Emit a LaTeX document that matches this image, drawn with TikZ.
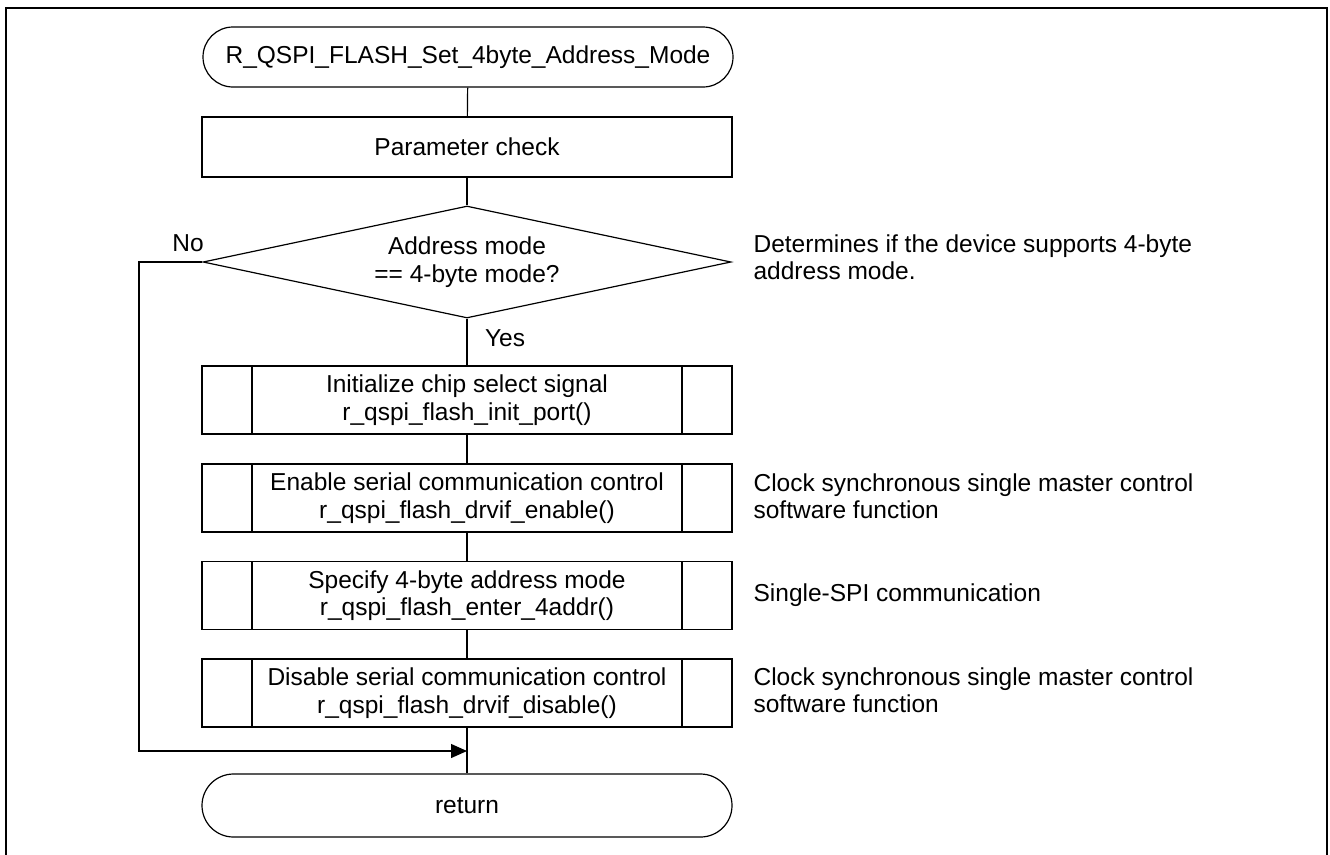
\documentclass[tikz,border=0pt]{standalone}
\usepackage{fontspec}
\setmainfont{Liberation Sans}
\usetikzlibrary{shapes.geometric,arrows.meta}
\begin{document}
\begin{tikzpicture}[x=1pt,y=-1pt,
  font=\fontsize{24.5}{27.5}\selectfont,
  line width=1.2pt,
  term/.style={draw, rounded corners=30pt, minimum width=530pt, minimum height=60pt, inner sep=0pt, align=center},
  proc/.style={draw, minimum width=530pt, minimum height=60pt, inner sep=0pt, align=center},
  sub/.style={draw, minimum width=530pt, minimum height=68pt, inner sep=0pt, align=center,
    path picture={\draw[line width=1.2pt]
      ([xshift=50pt]path picture bounding box.north west) -- ([xshift=50pt]path picture bounding box.south west)
      ([xshift=-50pt]path picture bounding box.north east) -- ([xshift=-50pt]path picture bounding box.south east);}},
  dec/.style={draw, diamond, aspect=4.7, minimum width=528pt, minimum height=112pt, inner sep=0pt, align=center},
  note/.style={anchor=west, align=left, inner sep=0pt},
  lbl/.style={inner sep=0pt}]
\useasboundingbox (0,0) rectangle (1330,854);
\draw[line width=2.6pt] (6,856) -- (6,8) -- (1327,8) -- (1327,856);

\node[term] (start) at (468,57) {R\_QSPI\_FLASH\_Set\_4byte\_Address\_Mode};
\node[proc] (param) at (467,147) {Parameter check};
\node[dec] (dec) at (467,262) {Address mode\\== 4-byte mode?};
\node[sub] (s1) at (467,400) {Initialize chip select signal\\r\_qspi\_flash\_init\_port()};
\node[sub] (s2) at (467,498) {Enable serial communication control\\r\_qspi\_flash\_drvif\_enable()};
\node[sub] (s3) at (467,595.5) {Specify 4-byte address mode\\r\_qspi\_flash\_enter\_4addr()};
\node[sub] (s4) at (467,693) {Disable serial communication control\\r\_qspi\_flash\_drvif\_disable()};
\node[term, minimum height=63pt, rounded corners=31.5pt] (ret) at (467,805.5) {return};

\node[lbl] (no) at (188,243) {No};
\node[lbl] (yes) at (505,338) {Yes};

\node[note] (n1) at (753,257) {Determines if the device supports 4-byte\\address mode.};
\node[note] (n2) at (753,496) {Clock synchronous single master control\\software function};
\node[note] (n3) at (753,595.5) {Single-SPI communication};
\node[note] (n4) at (753,690) {Clock synchronous single master control\\software function};

\draw (start) -- (param);
\draw (param) -- (dec);
\draw (dec) -- (s1);
\draw (s1) -- (s2);
\draw (s2) -- (s3);
\draw (s3) -- (s4);
\draw (s4) -- (ret);

\coordinate (c1) at (139,262);
\coordinate (c2) at (139,751);
\coordinate (m) at (467,751);
\draw[-{Triangle[length=16pt,width=14pt]}] (dec.west) -- (c1) -- (c2) -- (m);
\end{tikzpicture}
\end{document}
